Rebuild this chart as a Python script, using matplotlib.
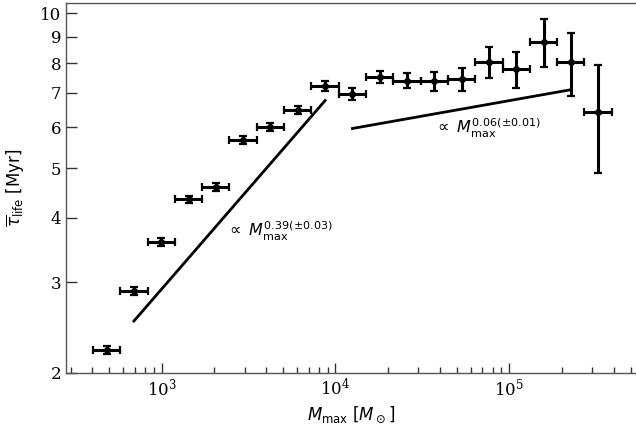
import numpy as np
import matplotlib.pyplot as plt
from matplotlib.ticker import FixedLocator, FixedFormatter, NullLocator

# binned cloud lifetimes against maximum mass
mmax = [482.6, 692.9, 994.7, 1428, 2051, 2944, 4228, 6071, 8716, 12514,
        17967, 25797, 37039, 53180, 76355, 109648, 157400, 226100, 324600]
bin_edges = [402.6, 578, 830, 1191, 1710, 2455, 3525, 5061, 7265, 10430,
             14975, 21500, 30866, 44315, 63625, 91350, 131160, 188300,
             270350, 388150]
tau = [2.21, 2.88, 3.59, 4.35, 4.60, 5.66, 6.02, 6.49, 7.22, 6.96,
       7.52, 7.40, 7.37, 7.45, 8.05, 7.79, 8.80, 8.03, 6.42]
tau_err = [0.04, 0.05, 0.06, 0.07, 0.08, 0.10, 0.11, 0.12, 0.15, 0.19,
           0.20, 0.24, 0.31, 0.38, 0.55, 0.62, 0.93, 1.13, 1.53]

# power-law fits: (x start, x end, y at start, slope)
fit_low = (692.9, 8716, 2.52, 0.39)
fit_high = (12514, 226100, 5.97, 0.06)

x = np.array(mmax)
edges = np.array(bin_edges)
xerr = [x - edges[:-1], edges[1:] - x]

fig = plt.figure(figsize=(6.36, 4.32), dpi=100)
ax = fig.add_axes([0.1038, 0.1373, 0.8962, 0.8557])

ax.errorbar(x, tau, xerr=xerr, yerr=tau_err, fmt='o', color='black',
            markersize=4, elinewidth=2.2, capsize=3, capthick=1.6)

for x0, x1, y0, p in (fit_low, fit_high):
    xs = np.array([x0, x1])
    ax.plot(xs, y0 * (xs / x0) ** p, color='black', lw=2)

ax.set_xscale('log')
ax.set_yscale('log')
ax.set_xlim(282, 5.35e5)
ax.set_ylim(2, 10.47)

yt = [2, 3, 4, 5, 6, 7, 8, 9, 10]
ax.yaxis.set_major_locator(FixedLocator(yt))
ax.yaxis.set_major_formatter(FixedFormatter([str(v) for v in yt]))
ax.yaxis.set_minor_locator(NullLocator())

for s in ax.spines.values():
    s.set_color('#555555')
    s.set_linewidth(1.0)
ax.spines['right'].set_visible(False)

ax.tick_params(which='both', direction='in', top=False, right=False,
               color='#333333', width=1, labelsize=12)
ax.tick_params(axis='y', which='major', length=8)
ax.tick_params(axis='x', which='major', length=7)
ax.tick_params(axis='x', which='minor', length=4)
for lab in ax.get_xticklabels() + ax.get_yticklabels():
    lab.set_fontfamily('DejaVu Serif')

ax.text(2350, 3.68, r'$\propto\ M_{\rm max}^{0.39(\pm0.03)}$', fontsize=11.5)
ax.text(3.7e4, 5.85, r'$\propto\ M_{\rm max}^{0.06(\pm0.01)}$', fontsize=11.5)

ax.set_xlabel(r'$M_{\rm max}$ [$M_\odot$]', fontsize=12)
ax.set_ylabel(r'$\overline{\tau}_{\rm life}$ [Myr]', fontsize=12, labelpad=9)

fig.savefig('out.png', dpi=100)
